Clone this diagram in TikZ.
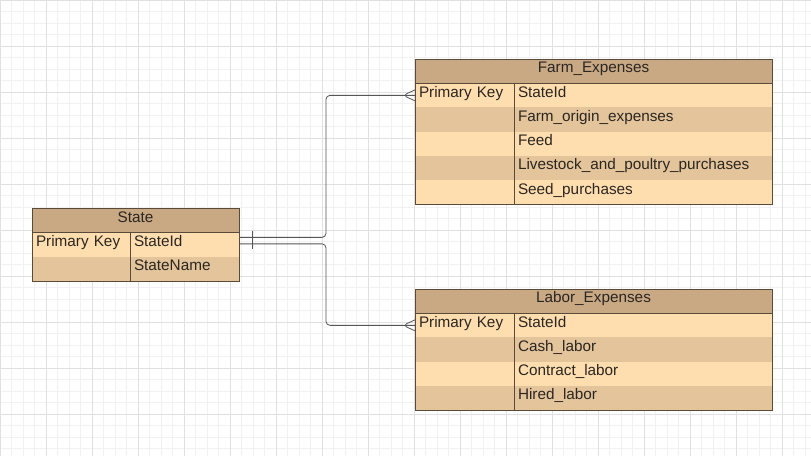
\documentclass[tikz,border=0pt]{standalone}
\usepackage{fontspec}
\setmainfont{Liberation Sans}
\usepackage{tikz}
\usetikzlibrary{shapes,arrows,positioning,calc}
\usepackage{xcolor}
\definecolor{headcol}{HTML}{C9A984}
\definecolor{rowlight}{HTML}{FEDDAF}
\definecolor{rowdark}{HTML}{E4C49A}
\definecolor{edgecol}{HTML}{5A4A3A}
\definecolor{linkcol}{HTML}{555555}
\definecolor{textcol}{HTML}{2A2622}

\begin{document}
\begin{tikzpicture}[x=1pt, y=-1pt, font=\fontsize{15.3}{18}\selectfont, text=textcol]
    % Styles
    \tikzstyle{head} = [rectangle, fill=headcol, inner sep=0pt, outer sep=0pt, anchor=north west, text height=13.6pt, text depth=10.65pt]
    \tikzstyle{cell} = [rectangle, inner xsep=4pt, inner ysep=0pt, outer sep=0pt, align=left, text height=14pt, text depth=10.2pt]
    \tikzstyle{lite} = [cell, fill=rowlight]
    \tikzstyle{dark} = [cell, fill=rowdark]
    \tikzstyle{frame} = [draw=edgecol, line width=1pt]
    \tikzstyle{link} = [draw=linkcol, line width=0.8pt, rounded corners=4pt]

    % Background grid
    \useasboundingbox (0,0) rectangle (811,456);
    \fill[white] (0,0) rectangle (811,456);
    \begin{scope}[y=1pt]
        \draw[gray!11, line width=0.6pt] (0,-456) grid[step=11.5] (811,0);
        \draw[gray!24, line width=0.6pt] (0,-456) grid[step=46] (811,0);
    \end{scope}

    % State
    \node[head, minimum width=207pt] (state) at (32,208.5) {State};
    \node[lite, text width=90pt, anchor=north west] (s1k) at (state.south west) {Primary Key};
    \node[lite, text width=101pt, right=0pt of s1k] (s1v) {StateId};
    \node[dark, text width=90pt, anchor=north west] (s2k) at (s1k.south west) {};
    \node[dark, text width=101pt, right=0pt of s2k] (s2v) {StateName};
    \draw[frame] (state.north west) rectangle (s2v.south east);
    \draw[frame] (state.south west) -- (state.south east);
    \draw[frame] (s1v.north west) -- (s2v.south west);

    % Farm_Expenses
    \node[head, minimum width=357pt] (farm) at (415,59) {Farm\_Expenses};
    \node[lite, text width=91pt, anchor=north west] (f1k) at (farm.south west) {Primary Key};
    \node[lite, text width=250pt, right=0pt of f1k] (f1v) {StateId};
    \node[dark, text width=91pt, anchor=north west] (f2k) at (f1k.south west) {};
    \node[dark, text width=250pt, right=0pt of f2k] (f2v) {Farm\_origin\_expenses};
    \node[lite, text width=91pt, anchor=north west] (f3k) at (f2k.south west) {};
    \node[lite, text width=250pt, right=0pt of f3k] (f3v) {Feed};
    \node[dark, text width=91pt, anchor=north west] (f4k) at (f3k.south west) {};
    \node[dark, text width=250pt, right=0pt of f4k] (f4v) {Livestock\_and\_poultry\_purchases};
    \node[lite, text width=91pt, anchor=north west] (f5k) at (f4k.south west) {};
    \node[lite, text width=250pt, right=0pt of f5k] (f5v) {Seed\_purchases};
    \draw[frame] (farm.north west) rectangle (f5v.south east);
    \draw[frame] (farm.south west) -- (farm.south east);
    \draw[frame] (f1v.north west) -- (f5v.south west);

    % Labor_Expenses
    \node[head, minimum width=357pt] (labor) at (415,289) {Labor\_Expenses};
    \node[lite, text width=91pt, anchor=north west] (l1k) at (labor.south west) {Primary Key};
    \node[lite, text width=250pt, right=0pt of l1k] (l1v) {StateId};
    \node[dark, text width=91pt, anchor=north west] (l2k) at (l1k.south west) {};
    \node[dark, text width=250pt, right=0pt of l2k] (l2v) {Cash\_labor};
    \node[lite, text width=91pt, anchor=north west] (l3k) at (l2k.south west) {};
    \node[lite, text width=250pt, right=0pt of l3k] (l3v) {Contract\_labor};
    \node[dark, text width=91pt, anchor=north west] (l4k) at (l3k.south west) {};
    \node[dark, text width=250pt, right=0pt of l4k] (l4v) {Hired\_labor};
    \draw[frame] (labor.north west) rectangle (l4v.south east);
    \draw[frame] (labor.south west) -- (labor.south east);
    \draw[frame] (l1v.north west) -- (l4v.south west);

    % Links
    \coordinate (upbend) at ([xshift=-89pt]f1k.west);
    \coordinate (lowbend) at ([xshift=-89pt]l1k.west);
    \draw[link] ([yshift=7.5pt]s1v.east) -| (upbend) -- (f1k.west);
    \draw[link] ([yshift=1pt]s1v.east) -| (lowbend) -- (l1k.west);

    % One side
    \draw[link] ([xshift=13pt, yshift=13.5pt]s1v.east) -- ([xshift=13pt, yshift=-4.5pt]s1v.east);
    % Many side
    \draw[link] ([yshift=5.5pt]f1k.west) -- ([xshift=-12pt]f1k.west) -- ([yshift=-5.5pt]f1k.west);
    \draw[link] ([yshift=5.5pt]l1k.west) -- ([xshift=-12pt]l1k.west) -- ([yshift=-5.5pt]l1k.west);
\end{tikzpicture}
\end{document}
